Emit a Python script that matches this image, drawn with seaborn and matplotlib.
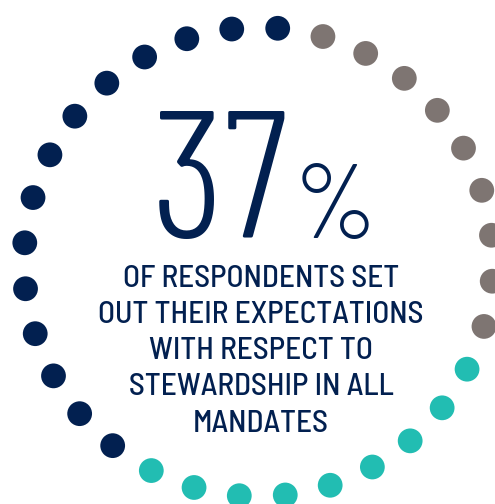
import matplotlib
matplotlib.use("Agg")
import numpy as np
import pandas as pd
import seaborn as sns
import matplotlib.pyplot as plt

# Ring of dots: how many dots each segment holds, walking counter-clockwise from the top
segments = ["navy", "teal", "grey"]
dot_counts = [14, 9, 9]
palette = {"navy": "#022050", "teal": "#22bdb2", "grey": "#7e7572"}

headline_value = "37"
headline_unit = "%"
caption_lines = [
    "OF RESPONDENTS SET",
    "OUT THEIR EXPECTATIONS",
    "WITH RESPECT TO",
    "STEWARDSHIP IN ALL",
    "MANDATES",
]

W, H = 495, 504
sns.set_theme(style="white")

# ring geometry (pixel space)
cx, cy, ring_r = 258.5, 262.0, 234.5
start_deg = 85.3
n_total = sum(dot_counts)
step = 360.0 / n_total

labels = np.repeat(segments, dot_counts)
ang = np.deg2rad(start_deg + step * np.arange(n_total))
dots = pd.DataFrame({
    "x": cx + ring_r * np.cos(ang),
    "y": cy - ring_r * np.sin(ang),
    "segment": labels,
})

fig = plt.figure(figsize=(W / 100, H / 100), dpi=100)
ax = fig.add_axes([0, 0, 1, 1])
ax.set_xlim(0, W)
ax.set_ylim(H, 0)
ax.set_axis_off()

sns.scatterplot(data=dots, x="x", y="y", hue="segment", palette=palette,
                s=318, linewidth=0, legend=False, ax=ax)

navy = palette["navy"]
num = ax.text(152, 238, headline_value, ha="left", va="baseline", color=navy,
              family="Barlow Condensed", fontweight=300, fontsize=130)
fig.canvas.draw()
bb = num.get_window_extent().transformed(ax.transData.inverted())
ax.text(max(bb.x0, bb.x1) + 5, 238, headline_unit, ha="left", va="baseline",
        color=navy, family="Barlow Condensed", fontweight=300, fontsize=76)

baseline0, line_gap = 286.7, 36.25
for i, line in enumerate(caption_lines):
    ax.text(261, baseline0 + i * line_gap, line, ha="center", va="baseline",
            color=navy, family="Barlow Semi Condensed", fontweight=500,
            fontsize=22.5)

fig.savefig("out.png", dpi=100)
